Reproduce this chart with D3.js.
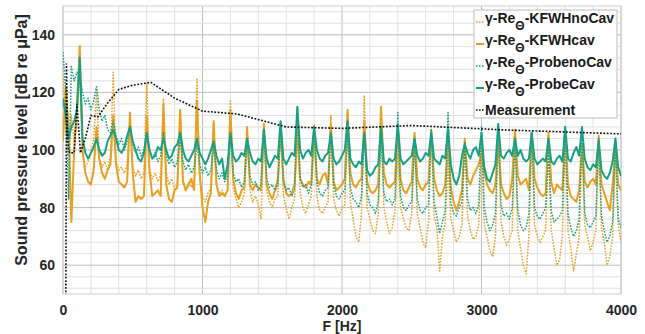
<!DOCTYPE html>
<html>
<head>
<meta charset="utf-8">
<script src="https://cdn.jsdelivr.net/npm/d3@7"></script>
<style>
  body { margin: 0; background: #fff; }
  svg { display: block; font-family: "Liberation Sans", Arial, sans-serif; }
</style>
</head>
<body>
<svg id="chart" width="645" height="334"></svg>
<script>
// spectra on a 20 Hz grid, 0..4000 Hz (rows of 6 = one 120 Hz harmonic period)
const binWidth = 20;

const kfwhNoCav = [
  126,108,98,112,103,110,
  128,98,94,96,99,104,
  121,97,94,96,93,98,
  127,96,93,94,92,95,
  110,94,91,93,90,92,
  123,93,90,92,89,91,
  118,92,88,90,86,89,
  114,90,86,89,87,88,
  125,90,84,82,85,87,
  109,88,85,86,84,86,
  117,87,83,80,82,85,
  106,86,82,84,81,76,
  109,86,82,80,83,84,
  110,84,80,76,80,83,
  110,85,80,78,81,84,
  109,84,79,78,80,82,
  112,83,79,77,80,81,
  113,82,76,70,68,78,
  119,80,76,72,71,78,
  114,80,75,71,73,79,
  99,80,76,73,72,78,
  105,78,73,68,66,75,
  107,77,73,58,70,75,
  96,76,72,68,70,74,
  103,77,72,69,70,74,
  100,74,70,65,63,70,
  105,75,70,67,69,72,
  107,72,66,60,57,70,
  106,74,70,68,70,72,
  101,72,66,60,62,70,
  105,72,66,58,64,70,
  102,74,70,65,68,72,
  104,73,68,60,63,70,
  99,74,68
];

const kfwhCav = [
  103,122,108,75,100,115,
  136,100,92,89,88,93,
  108,97,92,90,93,95,
  112,95,89,88,87,89,
  113,92,82,84,83,84,
  112,93,84,85,86,84,
  116,88,83,82,86,87,
  114,89,86,88,90,86,
  117,92,80,75,82,85,
  110,88,84,85,84,86,
  114,90,85,83,86,87,
  108,88,86,88,87,86,
  109,88,85,83,86,90,
  107,90,85,84,85,88,
  106,90,88,87,89,88,
  108,90,88,91,92,88,
  109,89,86,87,88,90,
  114,92,88,87,89,90,
  110,89,86,85,86,88,
  115,92,88,87,88,89,
  108,90,86,85,87,89,
  106,90,87,86,88,89,
  107,90,86,84,85,88,
  103,87,82,79,82,86,
  104,90,88,91,93,95,
  99,92,88,86,85,88,
  104,88,85,83,84,90,
  107,91,88,89,90,86,
  106,90,87,85,84,85,
  106,89,85,88,87,86,
  107,88,84,83,82,86,
  102,89,87,89,90,88,
  105,88,85,82,79,88,
  100,88,86
];

const probeNoCav = [
  134,120,83,129,124,127,
  126,120,116,118,114,117,
  122,114,110,112,107,106,
  110,105,102,104,100,103,
  108,102,99,101,98,100,
  106,100,97,99,96,98,
  106,98,95,97,94,96,
  104,96,93,95,92,94,
  102,95,92,94,91,93,
  101,93,90,92,89,91,
  104,92,89,90,87,89,
  103,91,88,89,86,88,
  106,90,87,88,86,88,
  108,89,86,87,84,86,
  115,90,87,88,85,88,
  108,89,85,84,86,87,
  106,88,84,83,85,86,
  105,87,83,82,80,84,
  106,85,81,80,78,82,
  104,85,82,83,81,83,
  113,84,80,79,81,82,
  103,83,79,78,80,81,
  107,82,77,71,75,79,
  113,82,78,77,80,82,
  103,83,79,80,78,81,
  108,80,75,72,74,78,
  109,81,77,78,76,80,
  104,79,74,72,73,78,
  106,80,77,76,78,80,
  100,79,75,76,77,79,
  108,78,73,70,72,76,
  108,78,74,73,75,77,
  104,77,72,68,70,75,
  104,76,73
];

const probeCav = [
  118,112,104,108,110,114,
  132,104,99,97,99,101,
  104,100,98,99,103,105,
  107,104,100,99,101,105,
  108,103,100,97,96,99,
  106,100,97,98,101,100,
  104,100,97,98,101,102,
  106,100,97,96,98,100,
  104,99,97,95,97,100,
  103,98,95,97,90,95,
  106,98,96,97,99,98,
  104,99,96,95,97,96,
  107,97,94,96,98,97,
  110,97,95,97,99,98,
  115,100,97,99,100,98,
  108,100,97,96,98,99,
  106,97,95,96,98,100,
  110,97,95,94,96,95,
  106,93,91,92,94,95,
  108,96,95,97,96,97,
  109,97,95,96,97,98,
  104,98,96,97,99,98,
  106,97,96,95,98,97,
  108,95,90,88,91,98,
  102,99,97,100,101,98,
  106,94,90,89,92,95,
  109,98,97,99,100,98,
  104,98,100,97,96,97,
  106,97,95,96,97,96,
  104,96,95,97,98,96,
  108,97,96,99,101,98,
  108,97,94,93,95,94,
  103,93,91,90,92,96,
  104,94,91
];

// measurement, third-octave bands
const measFreq = [20, 25, 31.5, 40, 50, 63, 80, 100, 125, 160, 200, 250, 315, 400, 500, 630, 800, 1000, 1250, 1600, 2000, 2500, 3150, 4000];
const measLevel = [40, 130, 108, 100, 99, 99, 99, 116, 99, 104, 112, 111.5, 116, 121, 122.5, 123.5, 118, 113.5, 112.5, 108, 107.5, 108.5, 107, 105.6];

const xTicks = [0, 1000, 2000, 3000, 4000];
const yTicks = [60, 80, 100, 120, 140];

const orange = "#e8a020", teal = "#16a085";

const series = [
  { name: "KFWHnoCav", values: kfwhNoCav, color: orange, dash: "1.6 1.4", width: 1.5 },
  { name: "KFWHcav", values: kfwhCav, color: orange, dash: null, width: 2 },
  { name: "ProbenoCav", values: probeNoCav, color: teal, dash: "1.6 1.4", width: 1.5 },
  { name: "ProbeCav", values: probeCav, color: teal, dash: null, width: 2 }
];

const svg = d3.select("#chart");
const plotL = 63, plotR = 621, plotT = 6, plotB = 294;

const x = d3.scaleLinear().domain([0, 4000]).range([plotL, plotR]);
const y = d3.scaleLinear().domain([50, 150]).range([plotB, plotT]);

// grid
const grid = svg.append("g");
grid.selectAll(".vx").data(d3.range(0, 4001, 200)).join("line")
  .attr("x1", d => x(d)).attr("x2", d => x(d)).attr("y1", plotT).attr("y2", plotB)
  .attr("stroke", d => d % 1000 === 0 ? "#bdbdbd" : "#e0e0e0").attr("stroke-width", 1);
grid.selectAll(".hy").data(d3.range(52, 150, 4)).join("line")
  .attr("y1", d => y(d)).attr("y2", d => y(d)).attr("x1", plotL).attr("x2", plotR)
  .attr("stroke", d => d % 20 === 0 ? "#bdbdbd" : "#e0e0e0").attr("stroke-width", 1);
svg.append("rect").attr("x", plotL).attr("y", plotT).attr("width", plotR - plotL).attr("height", plotB - plotT)
  .attr("fill", "none").attr("stroke", "#cfcfcf");

svg.append("clipPath").attr("id", "plotclip").append("rect")
  .attr("x", plotL).attr("y", plotT).attr("width", plotR - plotL).attr("height", plotB - plotT);

const plot = svg.append("g").attr("clip-path", "url(#plotclip)");
const line = d3.line().x((d, i) => x(i * binWidth)).y(d => y(d));

series.forEach(s => {
  plot.append("path").datum(s.values)
    .attr("d", line)
    .attr("fill", "none")
    .attr("stroke", s.color)
    .attr("stroke-width", s.width)
    .attr("stroke-dasharray", s.dash)
    .attr("stroke-linejoin", "round");
});

const measLine = d3.line().x((d, i) => x(measFreq[i])).y(d => y(d));
plot.append("path").datum(measLevel)
  .attr("d", measLine)
  .attr("fill", "none")
  .attr("stroke", "#111")
  .attr("stroke-width", 1.6)
  .attr("stroke-dasharray", "1.8 1.6");

// axes
const xAxis = svg.append("g").attr("transform", `translate(0,${plotB + 8})`)
  .call(d3.axisBottom(x).tickValues(xTicks).tickSize(0).tickFormat(d3.format("d")));
const yAxis = svg.append("g").attr("transform", `translate(${plotL - 5},0)`)
  .call(d3.axisLeft(y).tickValues(yTicks).tickSize(0));
[xAxis, yAxis].forEach(a => {
  a.select(".domain").remove();
  a.selectAll("text").attr("font-size", 14).attr("font-weight", "bold")
    .attr("fill", "#262626").attr("font-family", "Liberation Sans, Arial, sans-serif");
});

svg.append("text").attr("x", x(2000)).attr("y", 331)
  .attr("text-anchor", "middle").attr("font-size", 14).attr("font-weight", "bold").attr("fill", "#262626")
  .text("F [Hz]");
svg.append("text").attr("transform", "translate(27,140) rotate(-90)")
  .attr("text-anchor", "middle").attr("font-size", 16).attr("font-weight", "bold").attr("fill", "#262626")
  .text("Sound pressure level [dB re μPa]");

// legend
const legend = svg.append("g");
legend.append("rect").attr("x", 474).attr("y", 10).attr("width", 143).attr("height", 108)
  .attr("fill", "#fff").attr("stroke", "#bdbdbd");
const rows = [
  { s: series[0], cy: 18 }, { s: series[1], cy: 40 },
  { s: series[2], cy: 62 }, { s: series[3], cy: 84 }
];
rows.forEach(r => {
  legend.append("line").attr("x1", 476).attr("x2", 484).attr("y1", r.cy + 4).attr("y2", r.cy + 4)
    .attr("stroke", r.s.color).attr("stroke-width", r.s.width).attr("stroke-dasharray", r.s.dash);
  const t = legend.append("text").attr("x", 485).attr("y", r.cy + 5)
    .attr("font-size", 14).attr("font-weight", "bold").attr("fill", "#1a1a1a");
  t.append("tspan").text("γ-Re");
  t.append("tspan").attr("dy", 7).attr("font-size", 12).text("Θ");
  t.append("tspan").attr("dy", -7).text("-" + r.s.name);
});
legend.append("line").attr("x1", 476).attr("x2", 484).attr("y1", 110).attr("y2", 110)
  .attr("stroke", "#111").attr("stroke-width", 1.5).attr("stroke-dasharray", "1.6 1.4");
legend.append("text").attr("x", 485).attr("y", 115)
  .attr("font-size", 14).attr("font-weight", "bold").attr("fill", "#1a1a1a").text("Measurement");
</script>
</body>
</html>
